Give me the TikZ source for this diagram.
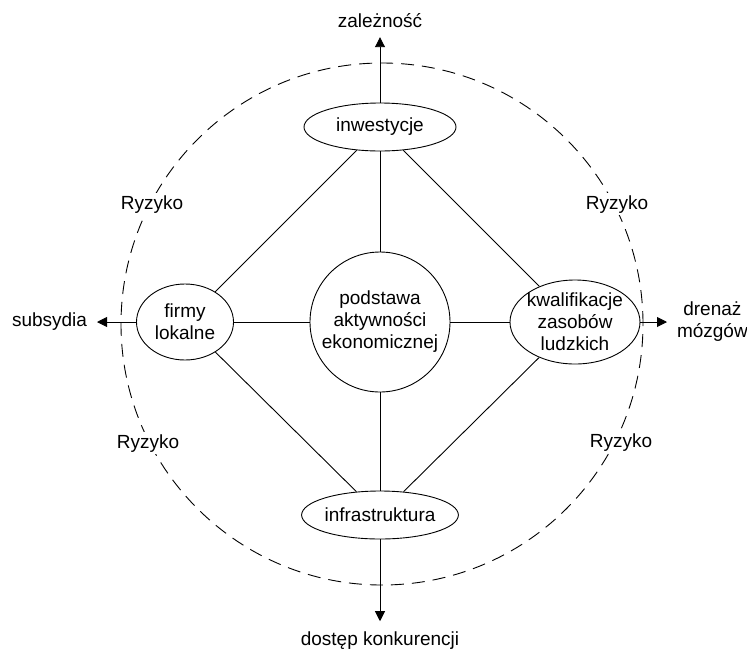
\documentclass[tikz,border=0pt]{standalone}
\usepackage{fontspec}
\setmainfont{Liberation Sans}
\usetikzlibrary{arrows.meta,positioning,shapes.geometric}
\tikzset{
  oval/.style={draw, ellipse, inner sep=0pt, align=center, line width=0.9pt},
  coreblock/.style={draw, circle, inner sep=0pt, align=center, minimum size=140pt, line width=0.9pt},
  farend/.style={inner sep=0pt, outer sep=10pt, align=center},
  risklabel/.style={fill=white, inner sep=2pt},
  link/.style={line width=0.9pt},
  arrow/.style={-{Triangle[length=10pt, width=10pt]}, line width=0.9pt},
  riskzone/.style={dash pattern=on 13pt off 8pt, line width=0.9pt}
}
\begin{document}
\begin{tikzpicture}[x=1pt, y=-1pt, font=\fontsize{19}{22}\selectfont]
    \useasboundingbox (0,0) rectangle (747,649);
    \draw[riskzone] (382,324) circle[radius=261pt];

    \node[coreblock] (core) at (380,322) {podstawa\\aktywności\\ekonomicznej};
    \node[oval, minimum width=152pt, minimum height=48pt] (inw) at (380,127) {inwestycje};
    \node[oval, minimum width=154pt, minimum height=48pt] (infra) at (380,515) {infrastruktura};
    \node[oval, minimum width=97pt, minimum height=76pt] (fl) at (185,322) {firmy\\lokalne};
    \node[oval, minimum width=130pt, minimum height=84pt, inner xsep=-4pt, inner ysep=-2pt] (kz) at (575,322) {kwalifikacje\\zasobów\\ludzkich};

    \node[farend, anchor=base] (zal) at (380,27) {zależność};
    \node[farend, anchor=east] (subs) at (97,322) {subsydia};
    \node[farend, anchor=west] (drm) at (667,322) {drenaż\\mózgów};
    \node[farend, anchor=base] (dk) at (380,645) {dostęp konkurencji};

    \node[risklabel, anchor=base] (r1) at (152,209) {Ryzyko};
    \node[risklabel, anchor=base] (r2) at (617,209) {Ryzyko};
    \node[risklabel, anchor=base] (r3) at (148,448) {Ryzyko};
    \node[risklabel, anchor=base] (r4) at (621,447) {Ryzyko};

    \draw[link] (inw) -- (fl);
    \draw[link] (inw) -- (kz);
    \draw[link] (infra) -- (fl);
    \draw[link] (infra) -- (kz);
    \draw[link] (inw) -- (core);
    \draw[link] (core) -- (infra);
    \draw[link] (fl) -- (core);
    \draw[link] (core) -- (kz);

    \draw[arrow] (inw) -- (zal);
    \draw[arrow] (fl) -- (subs);
    \draw[arrow] (kz) -- (drm);
    \draw[arrow] (infra) -- (dk);
  \end{tikzpicture}
\end{document}
